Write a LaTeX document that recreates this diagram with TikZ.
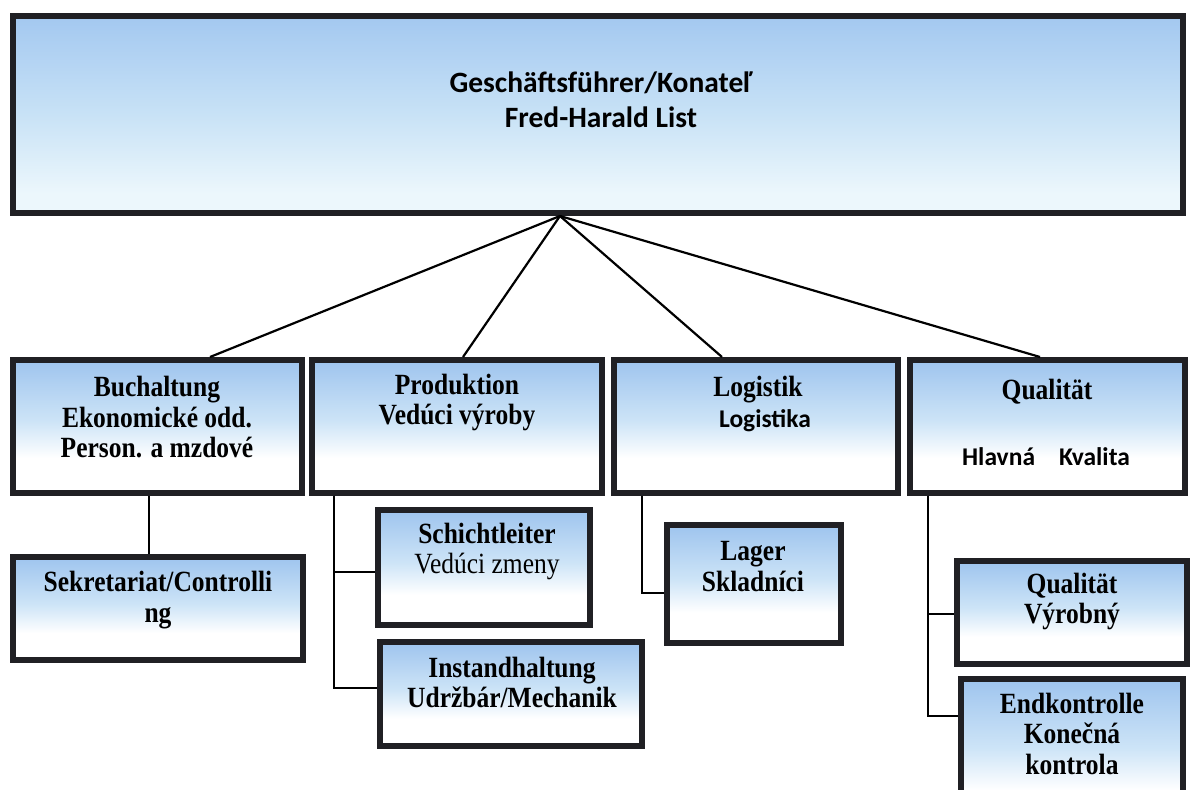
\documentclass[tikz,border=0pt]{standalone}
\usepackage{fontspec}
\setmainfont{Liberation Serif}
\newfontfamily\calfont{Carlito}
\definecolor{bdr}{RGB}{32,32,36}
\definecolor{lbA}{RGB}{158,196,238}
\definecolor{lbB}{RGB}{205,228,247}
\definecolor{tbA}{RGB}{163,200,240}
\definecolor{tbB}{RGB}{200,226,246}
\definecolor{tbC}{RGB}{236,247,252}
\pgfdeclareverticalshading{boxshade}{100bp}{color(0bp)=(white); color(38bp)=(white); color(52bp)=(lbB); color(75bp)=(lbA); color(100bp)=(lbA)}
\pgfdeclareverticalshading{topshade}{100bp}{color(0bp)=(tbC); color(30bp)=(tbC); color(50bp)=(tbB); color(75bp)=(tbA); color(100bp)=(tbA)}
\tikzset{
  orgbox/.style={rectangle, draw=bdr, line width=6pt, shading=boxshade, inner sep=0pt},
  conn/.style={draw=black, line width=2.2pt},
  tm/.style={font=\fontsize{25.5}{26.5}\selectfont\bfseries, align=center, yscale=1.15, transform shape, inner sep=0pt},
  cb/.style={font=\calfont\bfseries\fontsize{25.5}{30}\selectfont, inner sep=0pt},
}
\begin{document}
\begin{tikzpicture}[x=1pt,y=-1pt]
\clip (0,0) rectangle (1192,790);
\fill[white] (0,0) rectangle (1192,790);
% boxes
\node[orgbox, shading=topshade, minimum width=1170pt, minimum height=197pt] (gf) at (598,114.5) {};
\node[orgbox, minimum width=289pt, minimum height=132.5pt] (bu) at (157.75,426.25) {};
\node[orgbox, minimum width=290pt, minimum height=132.5pt] (pr) at (456.5,426.25) {};
\node[orgbox, minimum width=284pt, minimum height=132.5pt] (lo) at (755.5,426.25) {};
\node[orgbox, minimum width=274.5pt, minimum height=132.5pt] (qu) at (1047.25,426.25) {};
\node[orgbox, minimum width=289.5pt, minimum height=103.5pt] (se) at (157.75,608.25) {};
\node[orgbox, minimum width=212.5pt, minimum height=114.5pt] (sl) at (483.75,567.25) {};
\node[orgbox, minimum width=262.5pt, minimum height=103.5pt] (ih) at (510.75,693.75) {};
\node[orgbox, minimum width=174pt, minimum height=118pt] (lg) at (754,584) {};
\node[orgbox, minimum width=230pt, minimum height=103pt] (qv) at (1071.5,612) {};
\node[orgbox, minimum width=222pt, minimum height=151pt] (ek) at (1072,754) {};
% texts
\node[font=\calfont\bfseries\fontsize{29.5}{35}\selectfont, align=center, inner sep=0pt] (gft) at (601,99.5) {Geschäftsführer/Konateľ\\Fred-Harald List};
\node[tm] (but) at (157,417.5) {Buchaltung\\Ekonomické odd.\\Person. a mzdové};
\node[tm] (prt) at (457,402.5) {Produktion\\Vedúci výroby};
\node[tm] (lot) at (758,390) {Logistik};
\node[cb] (lot2) at (765,421) {Logistika};
\node[tm] (qut) at (1047,392) {Qualität};
\node[cb] (qut2) at (1046,457) {Hlavná\hspace{24pt}Kvalita};
\node[tm] (set) at (158,600) {Sekretariat/Controlli\\ng};
\node[tm] (slt) at (487,551.5) {{\bfseries Schichtleiter}\\{\mdseries Vedúci zmeny}};
\node[tm] (iht) at (512,682.5) {Instandhaltung\\Udržbár/Mechanik};
\node[tm] (lgt) at (753,566.5) {Lager\\Skladníci};
\node[tm] (qvt) at (1072,601.5) {Qualität\\Výrobný};
\node[tm] (ekt) at (1072,733.5) {Endkontrolle\\Konečná\\kontrola};
% connectors
\coordinate (apex) at ([xshift=-38pt]gf.south);
\draw[conn] (apex) -- ([xshift=52.25pt]bu.north);
\draw[conn] (apex) -- ([xshift=6.5pt]pr.north);
\draw[conn] (apex) -- ([xshift=-33.5pt]lo.north);
\draw[conn] (apex) -- ([xshift=-7.25pt]qu.north);
\coordinate (xb) at (149,0);
\coordinate (xp) at (334,0);
\coordinate (xl) at (642,0);
\coordinate (xq) at (928,0);
\draw[conn] (bu.south -| xb) -- (se.north -| xb);
\draw[conn] (pr.south -| xp) |- ([yshift=-4.75pt]sl.west);
\draw[conn] (pr.south -| xp) |- ([yshift=5.75pt]ih.west);
\draw[conn] (lo.south -| xl) |- ([yshift=-9pt]lg.west);
\draw[conn] (qu.south -| xq) |- ([yshift=-2pt]qv.west);
\draw[conn] (qu.south -| xq) |- ([yshift=38pt]ek.west);
\end{tikzpicture}
\end{document}
